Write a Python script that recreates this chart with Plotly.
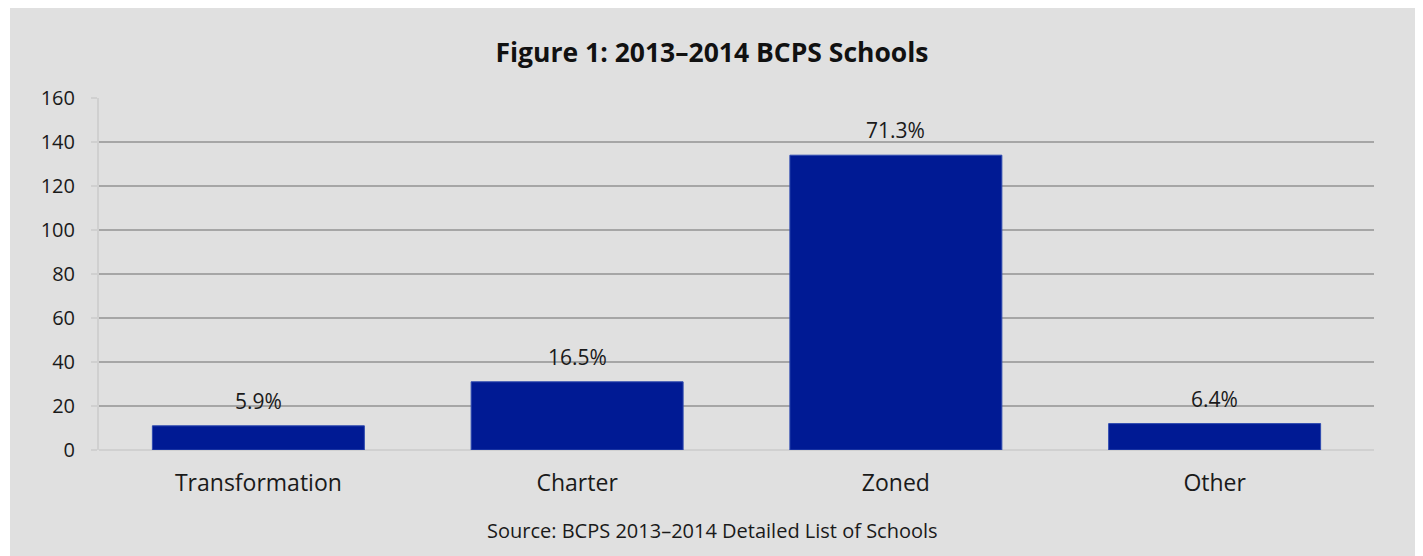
import plotly.graph_objects as go

categories = ["Transformation", "Charter", "Zoned", "Other"]
counts = [11, 31, 134, 12]
pct_labels = ["5.9%", "16.5%", "71.3%", "6.4%"]
y_ticks = [0, 20, 40, 60, 80, 100, 120, 140, 160]

OFF = 8  # page body margin
W, H = 1423, 556
L, T = 99 - OFF, 98 - OFF
RIGHT_EDGE, BOTTOM_EDGE = 1374 - OFF, 450 - OFF
R, B = W - RIGHT_EDGE, H - BOTTOM_EDGE
pw, ph = RIGHT_EDGE - L, BOTTOM_EDGE - T
CENTER_X = 712 - OFF

FONT = "Open Sans"

fig = go.Figure()
fig.add_trace(go.Bar(
    x=categories, y=counts,
    marker=dict(color="#001A94", line=dict(color="#2F4BB0", width=1)),
    width=0.665,
    hoverinfo="skip",
))

for c, v, t in zip(categories, counts, pct_labels):
    fig.add_annotation(x=c, y=v, text=t, showarrow=False, yanchor="bottom",
                       yshift=9, font=dict(family=FONT, size=21, color="#1a1a1a"))

fig.add_annotation(x=(CENTER_X - L) / pw, y=(BOTTOM_EDGE - (530 - OFF)) / ph,
                   xref="paper", yref="paper",
                   text="Source: BCPS 2013–2014 Detailed List of Schools",
                   showarrow=False, yanchor="middle", xanchor="center",
                   font=dict(family=FONT, size=20, color="#1a1a1a"))

# gray panel (thin white strip on the left)
fig.add_shape(type="rect", xref="paper", yref="paper", layer="below",
              x0=(2 - L) / pw, x1=(W - L + 5) / pw,
              y0=(BOTTOM_EDGE - H - 5) / ph, y1=(BOTTOM_EDGE + 5) / ph,
              fillcolor="#E0E0E0", line=dict(width=0))

fig.update_layout(
    width=W, height=H,
    margin=dict(l=L, r=R, t=T, b=B, autoexpand=False),
    paper_bgcolor="white",
    plot_bgcolor="white",
    showlegend=False,
    title=dict(text="<b>Figure 1: 2013–2014 BCPS Schools</b>", x=CENTER_X / W, xanchor="center",
               y=1 - (53 - OFF) / H, yanchor="middle",
               font=dict(family=FONT, size=26.5, color="#111111")),
    xaxis=dict(tickfont=dict(family=FONT, size=23, color="#1a1a1a"),
               showgrid=False, showline=False, ticks="", ticklabelstandoff=17,
               fixedrange=True),
    yaxis=dict(range=[0, 160], tickvals=y_ticks,
               tickfont=dict(family=FONT, size=20, color="#1a1a1a"),
               showgrid=True, gridcolor="#A6A6A6", gridwidth=2,
               zeroline=True, zerolinecolor="#D0D0D0", zerolinewidth=2,
               showline=True, linecolor="#D0D0D0", linewidth=2,
               ticks="outside", ticklen=6, tickcolor="#D0D0D0", tickwidth=2,
               ticklabelstandoff=12, fixedrange=True),
)

fig.write_html("out.html")
